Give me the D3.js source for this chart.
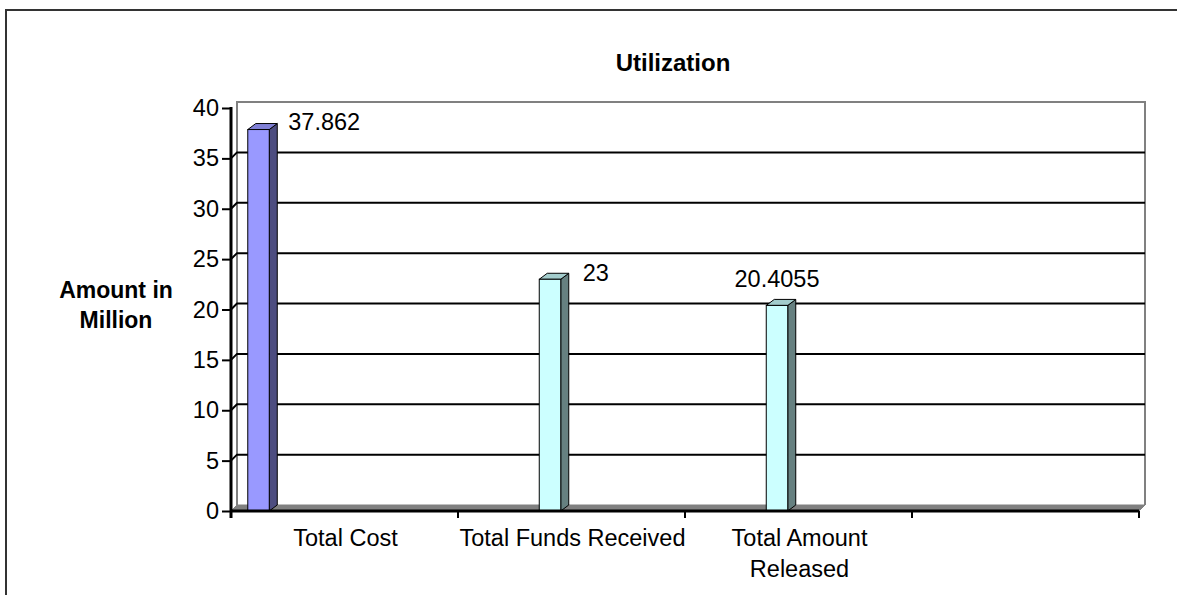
<!DOCTYPE html>
<html>
<head>
<meta charset="utf-8">
<script src="https://cdn.jsdelivr.net/npm/d3@7/dist/d3.min.js"></script>
<style>
  body { margin: 0; background: #fff; }
  text { font-family: Arial, "Liberation Sans", sans-serif; fill: #000; }
</style>
</head>
<body>
<div id="chart"></div>
<script>
(function() {
  'use strict';

  // chart data
  var categories = ["Total Cost", "Total Funds Received", "Total Amount Released", ""];
  var xTickLines = [["Total Cost"], ["Total Funds Received"], ["Total Amount", "Released"], []];
  var values = [37.862, 23, 20.4055];
  var barCategory = ["Total Cost", "Total Funds Received", "Total Amount Released"];
  var barSeries = [0, 3, 3];
  var yTicks = [0, 5, 10, 15, 20, 25, 30, 35, 40];
  var chartTitle = "Utilization";
  var yTitleLines = ["Amount in", "Million"];

  var W = 1177, H = 595;
  // 3d depth of walls and bars
  var wdx = 6, wdy = -6, bdx = 8, bdy = -6;
  var seriesFill = {
    0: { front: "#9999ff", side: "#4d4d80", top: "#8080d6" },
    3: { front: "#ccffff", side: "#668080", top: "#a3cccc" }
  };
  // label nudges: [dx, dy, anchor]
  var labelNudge = [[11, 0, "start"], [14, 2, "start"], [0, -18, "middle"]];

  var svg = d3.select("#chart").append("svg")
      .attr("width", W)
      .attr("height", H);

  // chart area border
  svg.append("rect")
      .attr("x", 6).attr("y", 10)
      .attr("width", W + 20).attr("height", H + 20)
      .attr("fill", "#fff")
      .attr("stroke", "#333")
      .attr("stroke-width", 2);

  var x = d3.scaleBand().domain(categories).range([231, 1139]).padding(0);
  var slot = d3.scaleBand().domain(d3.range(9)).range([0, x.bandwidth()])
      .paddingInner(0).paddingOuter(0.78);
  var y = d3.scaleLinear().domain([0, 40]).range([511, 108]);

  var x0 = x.range()[0], x1 = x.range()[1];
  var y0 = y(0), yTop = y(40);

  // back wall
  svg.append("path")
      .attr("d", "M" + (x0 + wdx) + "," + (y0 + wdy) + "V" + (yTop + wdy) + "H" + (x1 + wdx) + "V" + (y0 + wdy))
      .attr("fill", "none")
      .attr("stroke", "#808080")
      .attr("stroke-width", 2);

  // gridlines (side wall + back wall)
  svg.append("g").selectAll("path")
      .data(yTicks.filter(function(d) { return d > 0 && d < 40; }))
      .enter().append("path")
      .attr("d", function(d) {
        return "M" + x0 + "," + y(d) + "L" + (x0 + wdx) + "," + (y(d) + wdy) + "H" + (x1 + wdx);
      })
      .attr("fill", "none")
      .attr("stroke", "#000")
      .attr("stroke-width", 2);

  // floor
  svg.append("path")
      .attr("d", "M" + x0 + "," + y0 + "L" + (x0 + wdx) + "," + (y0 + wdy) + "H" + (x1 + wdx) + "L" + x1 + "," + y0 + "Z")
      .attr("fill", "#808080")
      .attr("stroke", "#808080")
      .attr("stroke-width", 1);

  // bars
  var bars = svg.append("g").selectAll("g")
      .data(values)
      .enter().append("g");

  function bx(d, i) { return x(barCategory[i]) + slot(barSeries[i]); }
  var bw = slot.bandwidth();

  bars.append("path")
      .attr("d", function(d, i) {
        var l = bx(d, i), r = l + bw, t = y(d);
        return "M" + r + "," + t + "L" + (r + bdx) + "," + (t + bdy) + "V" + (y0 + bdy) + "L" + r + "," + y0 + "Z";
      })
      .attr("fill", function(d, i) { return seriesFill[barSeries[i]].side; })
      .attr("stroke", "#000").attr("stroke-width", 1);

  bars.append("path")
      .attr("d", function(d, i) {
        var l = bx(d, i), r = l + bw, t = y(d);
        return "M" + l + "," + t + "L" + (l + bdx) + "," + (t + bdy) + "H" + (r + bdx) + "L" + r + "," + t + "Z";
      })
      .attr("fill", function(d, i) { return seriesFill[barSeries[i]].top; })
      .attr("stroke", "#000").attr("stroke-width", 1);

  bars.append("rect")
      .attr("x", bx)
      .attr("y", function(d) { return y(d); })
      .attr("width", bw)
      .attr("height", function(d) { return y0 - y(d); })
      .attr("fill", function(d, i) { return seriesFill[barSeries[i]].front; })
      .attr("stroke", "#000").attr("stroke-width", 1);

  // data labels
  bars.append("text")
      .text(function(d) { return String(d); })
      .attr("font-size", "23.5px")
      .attr("text-anchor", function(d, i) { return labelNudge[i][2]; })
      .attr("x", function(d, i) {
        var n = labelNudge[i];
        return n[2] === "start" ? bx(d, i) + bw + bdx + n[0] : bx(d, i) + bw / 2 + n[0];
      })
      .attr("y", function(d, i) { return y(d) + labelNudge[i][1]; });

  // y axis
  var yAxis = svg.append("g")
      .attr("transform", "translate(" + x0 + ",0)")
      .call(d3.axisLeft(y).tickValues(yTicks).tickSize(9).tickPadding(3));
  yAxis.select(".domain").remove();
  yAxis.selectAll(".tick line").attr("stroke", "#000").attr("stroke-width", 2);
  yAxis.selectAll(".tick text")
      .attr("font-family", "Arial, 'Liberation Sans', sans-serif")
      .attr("font-size", "23.5px")
      .attr("fill", "#000");

  // x axis baseline and ticks
  svg.append("line")
      .attr("x1", x0).attr("x2", x1)
      .attr("y1", y0).attr("y2", y0)
      .attr("stroke", "#000").attr("stroke-width", 3);
  svg.append("line")
      .attr("x1", x0).attr("x2", x0)
      .attr("y1", yTop - 1).attr("y2", y0 + 7)
      .attr("stroke", "#000").attr("stroke-width", 3);

  var xTickPos = categories.map(function(c) { return x(c); }).concat([x1]);
  svg.append("g").selectAll("line")
      .data(xTickPos)
      .enter().append("line")
      .attr("x1", function(d) { return d; }).attr("x2", function(d) { return d; })
      .attr("y1", y0).attr("y2", y0 + 7)
      .attr("stroke", "#000").attr("stroke-width", 2);

  // category labels
  var xl = svg.append("g").selectAll("text")
      .data(categories)
      .enter().append("text")
      .attr("text-anchor", "middle")
      .attr("font-size", "23.5px")
      .attr("x", function(c) { return x(c) + x.bandwidth() / 2 + 1; })
      .attr("y", 546);
  xl.selectAll("tspan")
      .data(function(c, i) { return xTickLines[i]; })
      .enter().append("tspan")
      .attr("x", function() { return d3.select(this.parentNode).attr("x"); })
      .attr("dy", function(d, i) { return i === 0 ? 0 : 31; })
      .text(function(d) { return d; });

  // titles
  svg.append("text")
      .attr("x", 673).attr("y", 71)
      .attr("text-anchor", "middle")
      .attr("font-weight", "bold")
      .attr("font-size", "24px")
      .text(chartTitle);

  svg.append("g").selectAll("text")
      .data(yTitleLines)
      .enter().append("text")
      .attr("x", 116)
      .attr("y", function(d, i) { return 298 + i * 30; })
      .attr("text-anchor", "middle")
      .attr("font-weight", "bold")
      .attr("font-size", "23px")
      .text(function(d) { return d; });
})();
</script>
</body>
</html>
